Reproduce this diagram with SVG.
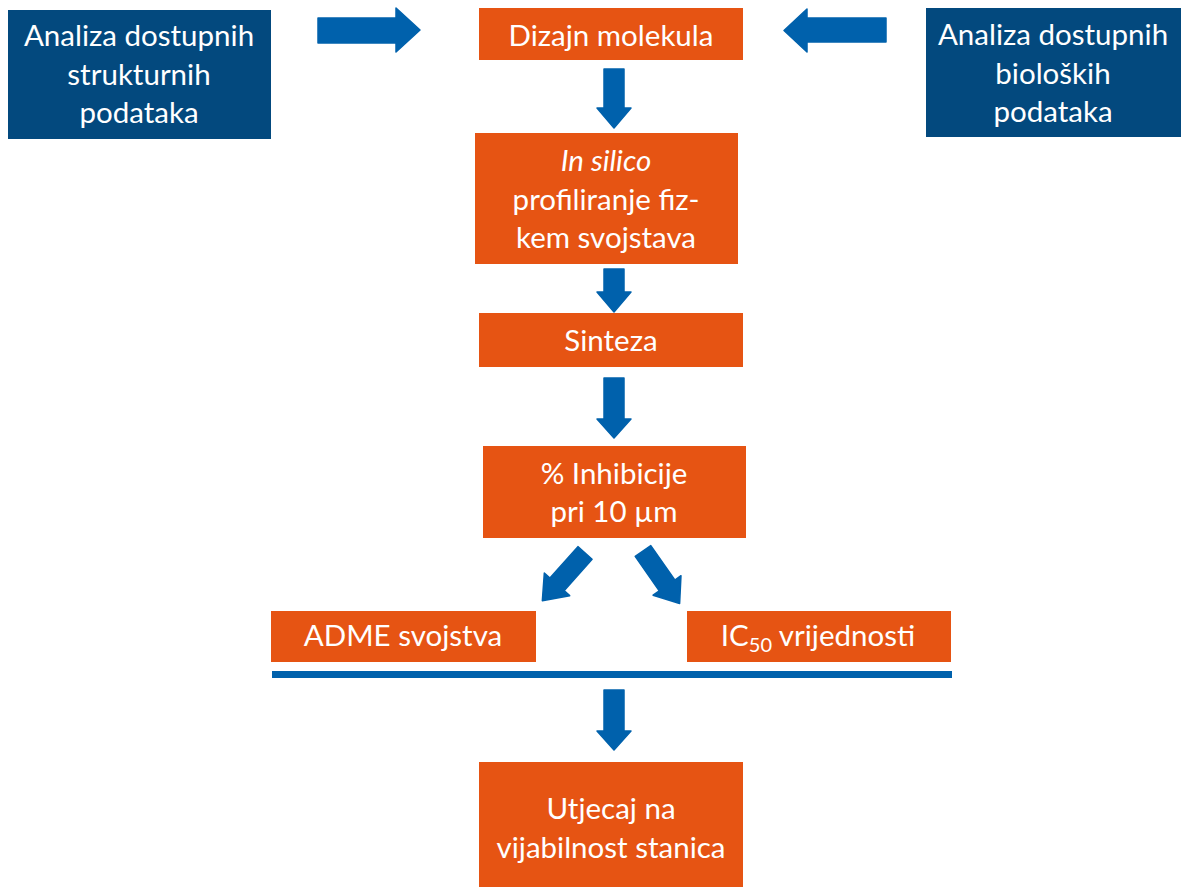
<svg xmlns="http://www.w3.org/2000/svg" width="1188" height="887" viewBox="0 0 1188 887">
<style>
.or{fill:#E65413}
.bl{fill:#03497E}
.t{font-family:Lato,"Liberation Sans",sans-serif;font-size:29.5px;fill:#FFFFFF;text-anchor:middle}
.ar{fill:#0061AC;stroke:#0061AC;stroke-width:1.5;stroke-linejoin:round}
</style>
<defs>
<path id="diag" d="M0,-9.5 H42 V-17 L64,0 L42,17 V9.5 H0 Z"/>
</defs>
<rect width="1188" height="887" fill="#FFFFFF"/>
<g id="node-struct">
<rect class="bl" x="8" y="10" width="263" height="129"/>
<text class="t" x="139" y="46">Analiza dostupnih</text>
<text class="t" x="139" y="85">strukturnih</text>
<text class="t" x="139" y="123">podataka</text>
</g>
<g id="node-bio">
<rect class="bl" x="926" y="8" width="255" height="129"/>
<text class="t" x="1053" y="45">Analiza dostupnih</text>
<text class="t" x="1053" y="84">bioloških</text>
<text class="t" x="1053" y="122">podataka</text>
</g>
<g id="node-dizajn">
<rect class="or" x="479" y="8" width="264" height="52"/>
<text class="t" x="611" y="46">Dizajn molekula</text>
</g>
<g id="node-insilico">
<rect class="or" x="475" y="133" width="263" height="131"/>
<text class="t" x="606" y="171"><tspan font-style="italic">In silico</tspan></text>
<text class="t" x="606" y="210">profiliranje fiz-</text>
<text class="t" x="606" y="248">kem svojstava</text>
</g>
<g id="node-sinteza">
<rect class="or" x="479" y="313" width="264" height="54"/>
<text class="t" x="611" y="351">Sinteza</text>
</g>
<g id="node-inhib">
<rect class="or" x="483" y="446" width="263" height="92"/>
<text class="t" x="614" y="484">% Inhibicije</text>
<text class="t" x="614" y="522">pri 10 µm</text>
</g>
<g id="node-adme">
<rect class="or" x="271" y="611" width="265" height="51"/>
<text class="t" x="403" y="646">ADME svojstva</text>
</g>
<g id="node-ic50">
<rect class="or" x="687" y="611" width="264" height="51"/>
<text class="t" x="818" y="646">IC<tspan font-size="20" dy="6">50</tspan><tspan dy="-6"> vrijednosti</tspan></text>
</g>
<g id="node-utjecaj">
<rect class="or" x="479" y="762" width="264" height="125"/>
<text class="t" x="611" y="819">Utjecaj na</text>
<text class="t" x="611" y="858">vijabilnost stanica</text>
</g>
<g id="connectors">
<path class="ar" d="M318,18 H396 V8 L420,30 L396,52 V43 H318 Z"/>
<path class="ar" d="M886,18 H807 V9 L784,30.5 L807,52 V42 H886 Z"/>
<path class="ar" d="M604,69 H624 V108 H631 L614,128 L597,108 H604 Z"/>
<path class="ar" d="M604,269 H624 V292 H631 L614,312 L597,292 H604 Z"/>
<path class="ar" d="M604,378 H624 V419 H631 L614,438 L597,419 H604 Z"/>
<use href="#diag" class="ar" transform="translate(585,553) rotate(131.8)"/>
<use href="#diag" class="ar" transform="translate(643,551) rotate(55.1)"/>
<rect x="272" y="671" width="680" height="7" fill="#0061AC"/>
<path class="ar" d="M604,690 H624 V731 H631 L614,750 L597,731 H604 Z"/>
</g>
</svg>
